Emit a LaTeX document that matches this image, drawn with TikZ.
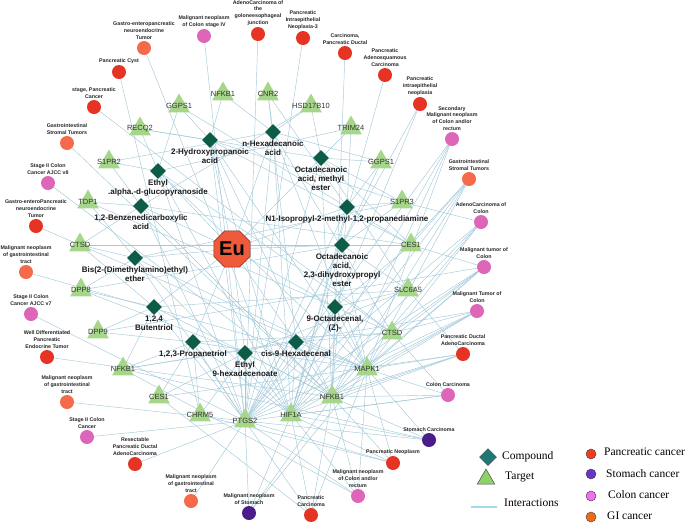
\documentclass[tikz,border=0pt]{standalone}
\usepackage{fontspec}
\setmainfont{Liberation Serif}
\setsansfont{Liberation Sans}
\usetikzlibrary{shapes.geometric,backgrounds}
\definecolor{edgec}{RGB}{164,201,217}
\definecolor{compc}{RGB}{12,92,72}
\definecolor{targc}{RGB}{166,214,138}
\definecolor{panc}{RGB}{229,52,36}
\definecolor{stoc}{RGB}{75,28,138}
\definecolor{colc}{RGB}{222,102,184}
\definecolor{gic}{RGB}{244,106,74}
\definecolor{euc}{RGB}{238,90,58}
\definecolor{legdia}{RGB}{30,120,115}
\definecolor{legtri}{RGB}{140,210,105}
\definecolor{legpan}{RGB}{242,60,28}
\definecolor{legsto}{RGB}{102,51,204}
\definecolor{legcol}{RGB}{240,112,240}
\definecolor{leggi}{RGB}{242,106,16}
\definecolor{legline}{RGB}{160,220,235}
\tikzset{
  comp/.style={diamond, fill=compc, minimum width=16pt, minimum height=16pt, inner sep=0pt},
  targ/.style={regular polygon, regular polygon sides=3, fill=targc, minimum size=25pt, inner sep=0pt},
  dis/.style={circle, minimum size=14pt, inner sep=0pt},
  pan/.style={dis, fill=panc},
  sto/.style={dis, fill=stoc},
  col/.style={dis, fill=colc},
  gi/.style={dis, fill=gic},
  dlab/.style={font=\sffamily\bfseries\fontsize{5.3}{6.9}\selectfont, align=center, text=black!85, inner sep=0.3pt},
  clab/.style={font=\sffamily\bfseries\fontsize{8}{9}\selectfont, align=center, text=black!90, inner sep=0.3pt},
  tlab/.style={font=\sffamily\fontsize{7.5}{8}\selectfont, text=black!80, inner sep=0pt},
  edge/.style={draw=edgec, line width=0.45pt},
  eustyle/.style={regular polygon, regular polygon sides=8, minimum size=38pt, inner sep=0pt, fill=euc, draw=euc!55!black, line width=0.5pt, font=\sffamily\bfseries\fontsize{20}{20}\selectfont},
  legtext/.style={font=\fontsize{11.5}{12}\selectfont, inner sep=0pt, anchor=west},
  legdot/.style={circle, minimum size=10pt, inner sep=0pt, draw=black!70, line width=0.5pt}
}
\newcommand\mytarget[4]{\node[targ] (#1) at (#2,#3) {}; \node[tlab] (#1L) at (#1) {#4};}
\newcommand\mydis[5]{\node[#1] (#2) at (#3,#4) {}; \node[dlab, anchor=south] (#2L) at ([yshift=0.5pt]#2.north) {#5};}
\newcommand\mycomp[4]{\node[comp] (#1) at (#2,#3) {}; \node[clab, anchor=north] (#1L) at ([yshift=-0.3pt]#1.south) {#4};}
\begin{document}
\begin{tikzpicture}[x=1pt,y=-1pt]
\useasboundingbox (0,0) rectangle (685,523);
% Eu
\node[eustyle] (eu) at (232,249) {Eu};
% compounds
\mycomp{c1}{210}{140}{2-Hydroxypropanoic\\acid}
\mycomp{c2}{273}{132}{n-Hexadecanoic\\acid}
\mycomp{c3}{321}{158}{Octadecanoic\\acid, methyl\\ester}
\mycomp{c4}{158}{171}{Ethyl\\.alpha.-d-glucopyranoside}
\mycomp{c5}{141}{206}{1,2-Benzenedicarboxylic\\acid}
\mycomp{c6}{135}{258}{Bis(2-(Dimethylamino)ethyl)\\ether}
\mycomp{c7}{154}{307}{1,2,4\\Butentriol}
\mycomp{c8}{193}{342}{1,2,3-Propanetriol}
\mycomp{c9}{245}{353}{Ethyl\\9-hexadecenoate}
\mycomp{c10}{296}{342}{cis-9-Hexadecenal}
\mycomp{c11}{335}{307}{9-Octadecenal,\\(Z)-}
\mycomp{c12}{342}{245}{Octadecanoic\\acid,\\2,3-dihydroxypropyl\\ester}
\mycomp{c13}{347}{207}{N1-Isopropyl-2-methyl-1,2-propanediamine}
% targets
\mytarget{tGGPSa}{179}{106}{GGPS1}
\mytarget{tNFKBa}{223}{94}{NFKB1}
\mytarget{tCNR}{268}{94}{CNR2}
\mytarget{tHSD}{311}{106}{HSD17B10}
\mytarget{tTRIM}{351}{128}{TRIM24}
\mytarget{tGGPSb}{381}{162}{GGPS1}
\mytarget{tRECQ}{140}{129}{RECQ2}
\mytarget{tSPa}{109}{162}{S1PR2}
\mytarget{tTDP}{88}{202}{TDP1}
\mytarget{tCTSDa}{80}{245}{CTSD}
\mytarget{tDPPa}{81}{290}{DPP8}
\mytarget{tDPPb}{98}{332}{DPP9}
\mytarget{tNFKBb}{123}{369}{NFKB1}
\mytarget{tCESa}{159}{397}{CES1}
\mytarget{tCHRM}{200}{415}{CHRM5}
\mytarget{tPTGS}{245}{421}{PTGS2}
\mytarget{tHIF}{291}{415}{HIF1A}
\mytarget{tNFKBc}{332}{397}{NFKB1}
\mytarget{tMAPK}{367}{369}{MAPK1}
\mytarget{tCTSDb}{392}{333}{CTSD}
\mytarget{tSLC}{408}{290}{SLC6A5}
\mytarget{tCESb}{411}{245}{CES1}
\mytarget{tSPb}{402}{202}{S1PR3}
% diseases
\mydis{gi}{d1}{144}{48}{Gastro-enteropancreatic\\neuroendocrine\\Tumor}
\mydis{col}{d2}{204}{36}{Malignant neoplasm\\of Colon stage IV}
\mydis{pan}{d3}{119}{72}{Pancreatic Cyst}
\mydis{pan}{d4}{94}{107}{stage, Pancreatic\\Cancer}
\mydis{gi}{d5}{67}{143}{Gastrointestinal\\Stromal Tumors}
\mydis{col}{d6}{48}{183}{Stage II Colon\\Cancer AJCC v8}
\mydis{pan}{d7}{36}{226}{Gastro-enteroPancreatic\\neuroendocrine\\Tumor}
\mydis{gi}{d8}{26}{272}{Malignant neoplasm\\of gastrointestinal\\tract}
\mydis{col}{d9}{31}{314}{Stage II Colon\\Cancer AJCC v7}
\mydis{pan}{d10}{47}{357}{Well Differentiated\\Pancreatic\\Endocrine Tumor}
\mydis{gi}{d11}{67}{402}{Malignant neoplasm\\of gastrointestinal\\tract}
\mydis{col}{d12}{87}{437}{Stage II Colon\\Cancer}
\mydis{pan}{d13}{135}{464}{Resectable\\Pancreatic Ductal\\AdenoCarcinoma}
\mydis{gi}{d14}{191}{501}{Malignant neoplasm\\of gastrointestinal\\tract}
\mydis{sto}{d15}{249}{513}{Malignant neoplasm\\of Stomach}
\mydis{pan}{d16}{311}{515}{Pancreatic\\Carcinoma}
\mydis{col}{d17}{358}{496}{Malignant neoplasm\\of Colon and/or\\rectum}
\mydis{pan}{d18}{393}{463}{Pancreatic Neoplasm}
\mydis{sto}{d19}{429}{440}{Stomach Carcinoma}
\mydis{col}{d20}{448}{395}{Colon Carcinoma}
\mydis{pan}{d21}{463}{354}{Pancreatic Ductal\\AdenoCarcinoma}
\mydis{col}{d22}{477}{311}{Malignant Tumor of\\Colon}
\mydis{col}{d23}{484}{267}{Malignant tumor of\\Colon}
\mydis{col}{d24}{481}{222}{AdenoCarcinoma of\\Colon}
\mydis{gi}{d25}{469}{179}{Gastrointestinal\\Stromal Tumors}
\mydis{col}{d26}{452}{139}{Secondary\\Malignant neoplasm\\of Colon and/or\\rectum}
\mydis{pan}{d27}{420}{104}{Pancreatic\\intraepithelial\\neoplasia}
\mydis{pan}{d28}{385}{75}{Pancreatic\\Adenosquamous\\Carcinoma}
\mydis{pan}{d29}{345}{53}{Carcinoma,\\Pancreatic Ductal}
\mydis{pan}{d30}{303}{38}{Pancreatic\\Intraepithelial\\Neoplasia-3}
\mydis{pan}{d31}{258}{34}{AdenoCarcinoma of\\the\\goloneesophageal\\junction}
% edges
\begin{scope}[on background layer]
\foreach \a in {c1,c2,c3,c4,c5,c6,c7,c8,c9,c10,c11,c12,c13}
  \draw[edge] (eu.center) -- (\a.center);
\foreach \a/\b in {
 c1/tGGPSa,c1/tRECQ,c1/tNFKBa,c1/tPTGS,c1/tHIF,c1/tNFKBc,c1/tMAPK,c1/tSPb,c1/tCESb,
 c2/tCNR,c2/tHSD,c2/tNFKBa,c2/tGGPSb,c2/tPTGS,c2/tHIF,c2/tMAPK,c2/tCTSDb,c2/tSPa,
 c3/tTRIM,c3/tGGPSb,c3/tHSD,c3/tPTGS,c3/tNFKBc,c3/tSLC,c3/tSPb,c3/tCESb,c3/tRECQ,
 c4/tSPa,c4/tRECQ,c4/tGGPSa,c4/tPTGS,c4/tHIF,c4/tCTSDb,c4/tMAPK,c4/tTRIM,
 c5/tTDP,c5/tSPa,c5/tCTSDa,c5/tPTGS,c5/tNFKBc,c5/tCESb,c5/tHSD,
 c6/tCTSDa,c6/tDPPa,c6/tTDP,c6/tPTGS,c6/tHIF,c6/tMAPK,c6/tSPb,
 c7/tDPPa,c7/tDPPb,c7/tCTSDa,c7/tNFKBb,c7/tPTGS,c7/tNFKBc,c7/tSLC,
 c8/tNFKBb,c8/tCESa,c8/tCHRM,c8/tDPPb,c8/tPTGS,c8/tHIF,c8/tMAPK,c8/tCTSDb,
 c9/tCHRM,c9/tCESa,c9/tPTGS,c9/tHIF,c9/tNFKBc,c9/tDPPa,c9/tSLC,
 c10/tHIF,c10/tNFKBc,c10/tMAPK,c10/tPTGS,c10/tCTSDb,c10/tCNR,c10/tNFKBb,
 c11/tCTSDb,c11/tSLC,c11/tMAPK,c11/tNFKBc,c11/tPTGS,c11/tCESb,c11/tHIF,c11/tTDP,
 c12/tCESb,c12/tSLC,c12/tSPb,c12/tPTGS,c12/tMAPK,c12/tGGPSb,c12/tHIF,c12/tDPPa,c12/tCTSDa,
 c13/tSPb,c13/tCESb,c13/tGGPSb,c13/tTRIM,c13/tPTGS,c13/tNFKBc,c13/tHIF,c13/tGGPSa,c13/tCNR}
  \draw[edge] (\a.center) -- (\b.center);
\foreach \a/\b in {
 d1/tHIF,d2/tPTGS,d3/tCHRM,d4/tCTSDb,d5/tNFKBc,d6/tNFKBc,d7/tMAPK,d8/tMAPK,d9/tPTGS,
 d10/tNFKBc,d11/tPTGS,d12/tPTGS,d13/tPTGS,d14/tPTGS,
 d15/tPTGS,d15/tHIF,d15/tNFKBc,d15/tMAPK,
 d16/tPTGS,d16/tHIF,d16/tNFKBc,d16/tMAPK,d16/tCESa,
 d17/tPTGS,d17/tHIF,d17/tNFKBc,d17/tMAPK,d17/tNFKBb,
 d18/tPTGS,d18/tHIF,d18/tNFKBc,d18/tMAPK,d18/tCHRM,
 d19/tPTGS,d19/tHIF,d19/tNFKBc,d19/tMAPK,d19/tNFKBb,
 d20/tPTGS,d20/tHIF,d20/tNFKBc,d20/tMAPK,d20/tCTSDb,
 d21/tPTGS,d21/tHIF,d21/tNFKBc,d21/tMAPK,d21/tSLC,d21/tCESa,
 d22/tPTGS,d22/tHIF,d22/tNFKBc,d22/tMAPK,d22/tCTSDb,d22/tNFKBb,
 d23/tPTGS,d23/tHIF,d23/tNFKBc,d23/tMAPK,d23/tCTSDb,d23/tCESb,d23/tDPPb,
 d24/tPTGS,d24/tHIF,d24/tNFKBc,d24/tMAPK,d24/tSPb,
 d25/tPTGS,d25/tHIF,d25/tNFKBc,d25/tMAPK,d25/tCESb,
 d26/tPTGS,d26/tHIF,d26/tNFKBc,d26/tMAPK,
 d27/tPTGS,d27/tHIF,d28/tHIF,d29/tNFKBc,d30/tPTGS,d31/tPTGS}
  \draw[edge] (\a.center) -- (\b.center);
\end{scope}
% legend
\node[diamond, fill=legdia, draw=black!70, line width=0.5pt, minimum width=17pt, minimum height=17pt, inner sep=0pt] (lgc) at (488,457) {};
\node[legtext] (lgcT) at (502,457) {Compound};
\node[regular polygon, regular polygon sides=3, fill=legtri, draw=black!70, line width=0.5pt, minimum size=20pt, inner sep=0pt] (lgt) at (486,479) {};
\node[legtext] (lgtT) at (505,477) {Target};
\coordinate (lgl1) at (471,507);
\coordinate (lgl2) at (497,507);
\draw[draw=legline, line width=1.6pt] (lgl1) -- (lgl2);
\node[legtext] (lglT) at (504,503) {Interactions};
\node[legdot, fill=legpan] (lp) at (591,454) {};
\node[legtext] (lpT) at (604,452) {Pancreatic cancer};
\node[legdot, fill=legsto] (ls) at (591,474) {};
\node[legtext] (lsT) at (606,474) {Stomach cancer};
\node[legdot, fill=legcol] (lc) at (591,496) {};
\node[legtext] (lcT) at (608,495) {Colon cancer};
\node[legdot, fill=leggi] (lg) at (591,517) {};
\node[legtext] (lgT) at (607,516) {GI cancer};
\end{tikzpicture}
\end{document}
